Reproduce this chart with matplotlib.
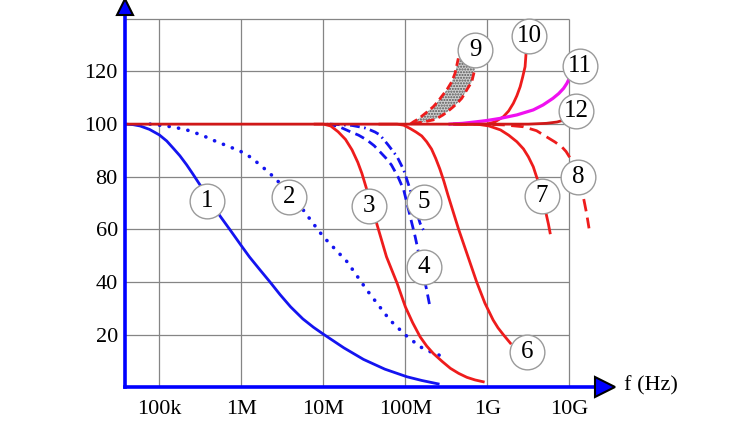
import numpy as np
import matplotlib
matplotlib.use("Agg")
import matplotlib.pyplot as plt

plt.rcParams["font.family"] = ["Liberation Serif", "DejaVu Serif"]

# curves: log10(f) and value
c1_lf = [4.578, 4.68, 4.765, 4.88, 5.0, 5.09, 5.171, 5.25, 5.334, 5.41, 5.496, 5.62, 5.74, 5.87, 5.993,
         6.1, 6.228, 6.35, 6.47, 6.6, 6.75, 6.88, 7.0, 7.25, 7.49, 7.75, 8.02, 8.2, 8.4]
c1_v = [100, 99.8, 99.3, 98.0, 95.9, 93.6, 90.8, 88.0, 84.5, 81.0, 76.9, 71.0, 65.1, 59.5, 54.1,
        49.5, 44.6, 40.0, 35.3, 30.6, 26.0, 22.8, 20.2, 15.0, 10.6, 6.9, 4.0, 2.6, 1.3]

c2_lf = [4.887, 5.0, 5.17, 5.334, 5.52, 5.70, 5.85, 6.0, 6.12, 6.228, 6.33, 6.431, 6.59, 6.74, 6.87,
         7.0, 7.29, 7.53, 7.81, 8.0, 8.18, 8.32, 8.44]
c2_v = [100, 99.6, 98.9, 97.8, 95.8, 93.3, 91.5, 89.5, 87.3, 84.5, 81.8, 78.8, 73.5, 68.0, 62.5,
        57.2, 47.7, 37.0, 25.6, 19.9, 15.4, 13.3, 11.9]

c3_lf = [6.9, 7.0, 7.09, 7.18, 7.27, 7.35, 7.42, 7.47, 7.56, 7.65, 7.77, 7.90, 8.0, 8.09, 8.18, 8.26,
         8.34, 8.45, 8.55, 8.65, 8.75, 8.85, 8.95]
c3_v = [100, 100, 99.3, 97.1, 94.2, 90.2, 85.5, 81.3, 72.0, 62.3, 49.6, 39.5, 30.6, 24.5, 19.2, 15.7,
        12.9, 9.8, 7.2, 5.3, 3.8, 2.8, 2.1]

c4_lf = [7.04, 7.18, 7.33, 7.43, 7.53, 7.62, 7.69, 7.76, 7.83, 7.91, 7.98, 8.02, 8.06, 8.12, 8.19, 8.26, 8.30]
c4_v = [100, 99.2, 97.1, 95.8, 94.0, 91.8, 89.5, 87.2, 84.5, 80.0, 75.0, 69.9, 64.8, 57.2, 47.0, 37.0, 30.6]

c5_lf = [7.08, 7.35, 7.5, 7.57, 7.63, 7.69, 7.79, 7.90, 7.98, 8.02, 8.06, 8.12, 8.18, 8.22]
c5_v = [100, 99.5, 98.6, 97.8, 97.0, 95.9, 92.1, 87.6, 82.6, 78.8, 75.0, 68.5, 62.3, 59.8]

c6_lf = [7.69, 7.9, 7.98, 8.06, 8.13, 8.2, 8.26, 8.32, 8.37, 8.42, 8.47, 8.52, 8.65, 8.76, 8.87,
         8.97, 9.07, 9.13, 9.195, 9.28]
c6_v = [100, 100, 99.6, 98.3, 97.0, 95.5, 93.3, 90.5, 87.0, 83.0, 78.3, 73.0, 60.0, 50.0, 40.0,
        32.0, 25.6, 22.6, 20.0, 16.8]

c7_lf = [8.6, 8.87, 9.02, 9.16, 9.26, 9.36, 9.44, 9.50, 9.56, 9.60, 9.65, 9.69, 9.72, 9.745, 9.765]
c7_v = [100, 100, 99.3, 97.8, 95.8, 93.3, 90.6, 87.6, 83.8, 80.0, 75.5, 70.0, 65.5, 62.0, 58.7]

c8_lf = [8.6, 8.91, 9.2, 9.44, 9.6, 9.72, 9.82, 9.907, 9.96, 10.0, 10.05, 10.1, 10.14, 10.17, 10.21, 10.24]
c8_v = [100, 100, 99.7, 99.0, 97.5, 95.2, 93.3, 91.4, 89.6, 87.6, 84.5, 80.0, 76.3, 72.4, 66.1, 60.4]

c9_up_lf = [8.06, 8.10, 8.16, 8.22, 8.28, 8.34, 8.40, 8.44, 8.505, 8.566, 8.606, 8.646]
c9_up_v = [100, 100.9, 102.0, 103.5, 105.0, 106.6, 108.7, 110.4, 113.0, 116.1, 119.3, 125.0]
c9_lo_lf = [8.10, 8.22, 8.34, 8.40, 8.46, 8.52, 8.585, 8.64, 8.688, 8.749, 8.81, 8.85]
c9_lo_v = [100.3, 100.8, 101.6, 102.4, 103.5, 104.9, 106.6, 108.2, 109.8, 113.0, 116.1, 121.2]

c10_lf = [8.6, 8.99, 9.09, 9.195, 9.26, 9.317, 9.36, 9.40, 9.43, 9.46, 9.472]
c10_v = [100, 100, 100.8, 102.8, 105.0, 107.9, 110.8, 114.2, 117.8, 121.8, 126.9]

c11_lf = [8.545, 8.7, 8.87, 9.0, 9.16, 9.36, 9.56, 9.68, 9.80, 9.87, 9.93, 9.97, 10.0]
c11_v = [100, 100.3, 100.9, 101.4, 102.2, 103.5, 105.4, 107.3, 109.8, 111.6, 113.6, 115.5, 117.4]

c12_lf = [4.578, 9.5, 9.72, 9.85, 9.93]
c12_v = [100, 100, 100.3, 100.8, 101.5]

labels = ["1", "2", "3", "4", "5", "6", "7", "8", "9", "10", "11", "12"]
label_lf = [5.582, 6.583, 7.558, 8.228, 8.228, 9.484, 9.667, 10.106, 8.85, 9.508, 10.13, 10.081]
label_v = [70.8, 72.3, 68.9, 45.7, 70.4, 13.4, 72.7, 79.9, 128.2, 133.5, 122.1, 105.0]

x_ticks = [1e5, 1e6, 1e7, 1e8, 1e9, 1e10]
x_ticklabels = ["100k", "1M", "10M", "100M", "1G", "10G"]
y_ticks = [20, 40, 60, 80, 100, 120]
y_grid = [20, 40, 60, 80, 100, 120, 140]

blue = "#1414f0"
red = "#ee1c1c"

def hz(lf):
    return 10 ** np.array(lf)

fig = plt.figure(figsize=(7.5, 4.22), dpi=100)
ax = fig.add_axes([0.1663, 0.0822, 0.6404, 0.9012])
xmin, xmax = 10 ** 4.578, 10 ** 10.435
ax.set_xscale("log")
ax.set_xlim(xmin, xmax)
ax.set_ylim(0, 144.5)

# grid
ax.vlines(x_ticks, 0, 140, color="#858585", lw=0.9, zorder=1)
ax.hlines(y_grid, xmin, 1e10, color="#858585", lw=0.9, zorder=1)

lw = 2.0
ax.plot(hz(c1_lf), c1_v, color=blue, lw=lw, zorder=3)
ax.plot(hz(c2_lf), c2_v, color=blue, lw=2.6, ls=(0, (0.05, 2.6)), dash_capstyle="round", zorder=3)
ax.plot(hz(c4_lf), c4_v, color=blue, lw=lw, ls=(0, (3.5, 2.0)), zorder=3)
ax.plot(hz(c5_lf), c5_v, color=blue, lw=lw, ls=(0, (3.5, 1.6, 0.6, 1.6)), zorder=3)

# band of curve 9
ax.fill(np.concatenate([hz(c9_up_lf), hz(c9_lo_lf)[::-1]]),
        np.concatenate([c9_up_v, c9_lo_v[::-1]]),
        facecolor="#cfcfcf", edgecolor="#555555", hatch="......", lw=0, zorder=2)
ax.plot(hz(c9_up_lf), c9_up_v, color=red, lw=lw, ls=(0, (3.0, 1.6)), zorder=3)
ax.plot(hz(c9_lo_lf), c9_lo_v, color=red, lw=lw, ls=(0, (3.0, 1.6)), zorder=3)

ax.plot(hz(c3_lf), c3_v, color=red, lw=lw, zorder=3)
ax.plot(hz(c6_lf), c6_v, color=red, lw=lw, zorder=3)
ax.plot(hz(c7_lf), c7_v, color=red, lw=lw, zorder=3)
ax.plot(hz(c8_lf), c8_v, color=red, lw=lw, ls=(0, (4.5, 2.3)), zorder=3)
ax.plot(hz(c10_lf), c10_v, color=red, lw=lw, zorder=3)
ax.plot(hz(c11_lf), c11_v, color="#f010f0", lw=lw + 0.3, zorder=3)
ax.plot(hz(c12_lf), c12_v, color="#d01818", lw=lw, zorder=4)

# numbered circles
ax.plot(hz(label_lf), label_v, "o", ms=25, mfc="white", mec="#9a9a9a", mew=1.0, ls="none", zorder=5)
for t, lf, v in zip(labels, label_lf, label_v):
    ax.text(10 ** lf, v, t, ha="center", va="center", fontsize=18, zorder=6)

# axes as blue arrows
for s in ["top", "right"]:
    ax.spines[s].set_visible(False)
for s in ["left", "bottom"]:
    ax.spines[s].set_color("#0000ff")
    ax.spines[s].set_linewidth(2.6)
    ax.spines[s].set_zorder(7)
ax.plot([xmin], [144.5], marker="^", ms=12, mfc="#0000ff", mec="black", mew=1.5, clip_on=False, zorder=8)
ax.plot([xmax], [0], marker=">", ms=14, mfc="#0000ff", mec="black", mew=1.5, clip_on=False, zorder=8)

ax.set_xticks(x_ticks)
ax.set_xticklabels(x_ticklabels)
ax.minorticks_off()
ax.set_yticks(y_ticks)
ax.tick_params(axis="both", length=0, labelsize=16)
ax.tick_params(axis="x", pad=9)
ax.tick_params(axis="y", pad=5)

fig.text(624 / 750, (422 - 386) / 422, "f (Hz)", fontsize=16, va="center", ha="left")

fig.savefig("out.png", dpi=100)
